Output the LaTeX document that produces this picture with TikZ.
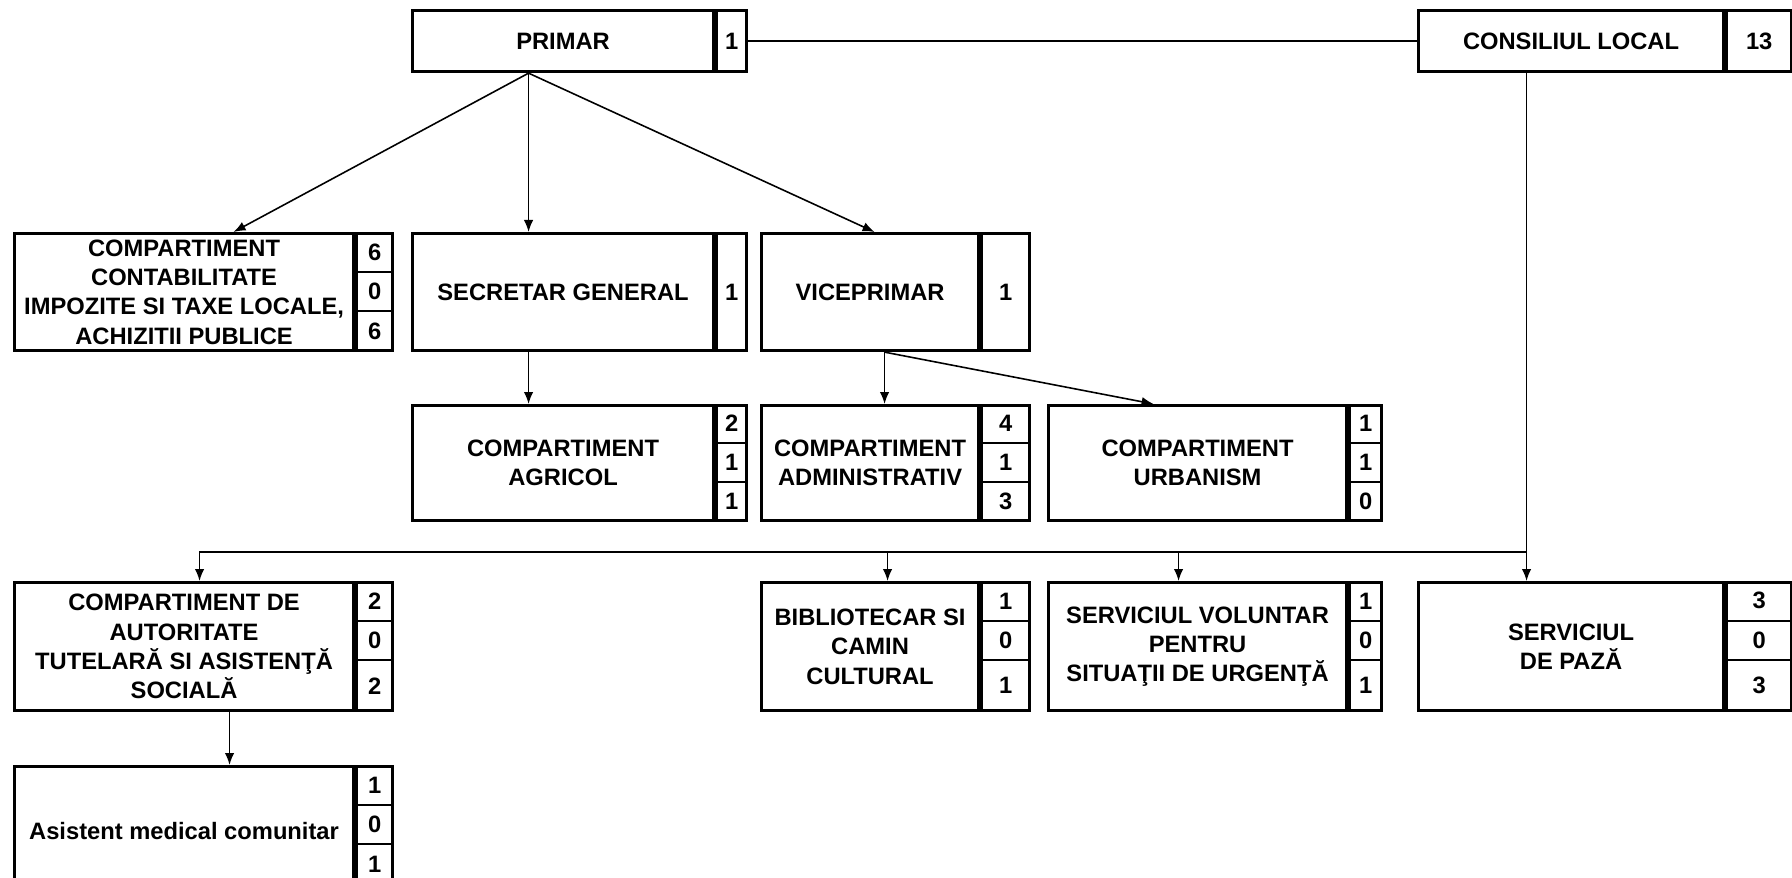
\documentclass[tikz,border=0pt]{standalone}
\usepackage{fontspec}
\setmainfont{Liberation Sans}
\usetikzlibrary{positioning,calc,arrows.meta}

\begin{document}
\begin{tikzpicture}[x=0.02cm,y=-0.02cm]
\tikzstyle{box}=[draw=black,line width=1.8pt,inner sep=0pt,anchor=north west,align=center,font=\bfseries\fontsize{13.5}{16.7}\selectfont]
\tikzstyle{num}=[box]
\tikzstyle{cell}=[inner sep=0pt,anchor=north,font=\bfseries\fontsize{13.5}{16.7}\selectfont]
\tikzstyle{sep}=[line width=1.1pt]
\tikzstyle{ln}=[draw=black,line width=0.9pt]
\tikzstyle{arr}=[ln,-{Latex[length=2.4mm,width=1.9mm]}]
% column widths (text part / number part)
\tikzstyle{wa}=[minimum width=6.78cm] \tikzstyle{na}=[minimum width=0.72cm]
\tikzstyle{wb}=[minimum width=6.02cm] \tikzstyle{nb}=[minimum width=0.6cm]
\tikzstyle{wc}=[minimum width=4.34cm] \tikzstyle{nc}=[minimum width=0.96cm]
\tikzstyle{wd}=[minimum width=5.96cm] \tikzstyle{nd}=[minimum width=0.64cm]
\tikzstyle{we}=[minimum width=6.1cm]  \tikzstyle{ne}=[minimum width=1.3cm]
% row heights
\tikzstyle{h0}=[minimum height=1.22cm]
\tikzstyle{h1}=[minimum height=2.34cm]
\tikzstyle{h2}=[minimum height=2.3cm]
\tikzstyle{h3}=[minimum height=2.56cm]
\tikzstyle{k1}=[minimum height=0.78cm]
\tikzstyle{k2}=[minimum height=0.767cm]
\tikzstyle{k3}=[minimum height=1.0cm]

\useasboundingbox (0,0) rectangle (1792,878);

% top row
\node [box,wb,h0] (primar) at (411,9) {PRIMAR};
\node [num,nb,h0] (primarN) at (primar.north east) {1};
\node [box,we,h0] (consiliu) at (1417,9) {CONSILIUL LOCAL};
\node [num,ne,h0] (consiliuN) at (consiliu.north east) {13};

% second row
\node [box,wa,h1] (contab) at (13,232) {COMPARTIMENT\\CONTABILITATE\\IMPOZITE SI TAXE LOCALE,\\ACHIZITII PUBLICE};
\node [num,na,h1] (contabN) at (contab.north east) {};
\node [cell,na,k1] (contab1) at (contabN.north) {6};
\node [cell,na,k1] (contab2) at (contab1.south) {0};
\node [cell,na,k1] (contab3) at (contab2.south) {6};
\node [box,wb,h1] (secretar) at (411,232) {SECRETAR GENERAL};
\node [num,nb,h1] (secretarN) at (secretar.north east) {1};
\node [box,wc,h1] (vice) at (760,232) {VICEPRIMAR};
\node [num,nc,h1] (viceN) at (vice.north east) {1};

% third row
\node [box,wb,h2] (agricol) at (411,404) {COMPARTIMENT\\AGRICOL};
\node [num,nb,h2] (agricolN) at (agricol.north east) {};
\node [cell,nb,k2] (agricol1) at (agricolN.north) {2};
\node [cell,nb,k2] (agricol2) at (agricol1.south) {1};
\node [cell,nb,k2] (agricol3) at (agricol2.south) {1};
\node [box,wc,h2] (admin) at (760,404) {COMPARTIMENT\\ADMINISTRATIV};
\node [num,nc,h2] (adminN) at (admin.north east) {};
\node [cell,nc,k2] (admin1) at (adminN.north) {4};
\node [cell,nc,k2] (admin2) at (admin1.south) {1};
\node [cell,nc,k2] (admin3) at (admin2.south) {3};
\node [box,wd,h2] (urban) at (1047,404) {COMPARTIMENT\\URBANISM};
\node [num,nd,h2] (urbanN) at (urban.north east) {};
\node [cell,nd,k2] (urban1) at (urbanN.north) {1};
\node [cell,nd,k2] (urban2) at (urban1.south) {1};
\node [cell,nd,k2] (urban3) at (urban2.south) {0};

% fourth row
\node [box,wa,h3] (autor) at (13,581) {COMPARTIMENT DE\\AUTORITATE\\TUTELARĂ SI ASISTENŢĂ\\SOCIALĂ};
\node [num,na,h3] (autorN) at (autor.north east) {};
\node [cell,na,k1] (autor1) at (autorN.north) {2};
\node [cell,na,k1] (autor2) at (autor1.south) {0};
\node [cell,na,k3] (autor3) at (autor2.south) {2};
\node [box,wc,h3] (bibl) at (760,581) {BIBLIOTECAR SI\\CAMIN\\CULTURAL};
\node [num,nc,h3] (biblN) at (bibl.north east) {};
\node [cell,nc,k1] (bibl1) at (biblN.north) {1};
\node [cell,nc,k1] (bibl2) at (bibl1.south) {0};
\node [cell,nc,k3] (bibl3) at (bibl2.south) {1};
\node [box,wd,h3] (voluntar) at (1047,581) {SERVICIUL VOLUNTAR\\PENTRU\\SITUAŢII DE URGENŢĂ};
\node [num,nd,h3] (voluntarN) at (voluntar.north east) {};
\node [cell,nd,k1] (voluntar1) at (voluntarN.north) {1};
\node [cell,nd,k1] (voluntar2) at (voluntar1.south) {0};
\node [cell,nd,k3] (voluntar3) at (voluntar2.south) {1};
\node [box,we,h3] (paza) at (1417,581) {SERVICIUL\\DE PAZĂ};
\node [num,ne,h3] (pazaN) at (paza.north east) {};
\node [cell,ne,k1] (paza1) at (pazaN.north) {3};
\node [cell,ne,k1] (paza2) at (paza1.south) {0};
\node [cell,ne,k3] (paza3) at (paza2.south) {3};

% last row (runs off the page)
\node [box,wa,h3] (asist) at (13,765) {Asistent medical comunitar};
\node [num,na,h3] (asistN) at (asist.north east) {};
\node [cell,na,k1] (asist1) at (asistN.north) {1};
\node [cell,na,k1] (asist2) at (asist1.south) {0};
\node [cell,na,k1] (asist3) at (asist2.south) {1};

% cell separators
\foreach \c in {contab,agricol,admin,urban,autor,bibl,voluntar,paza,asist} {
  \draw [sep] (\c1.south west) -- (\c1.south east);
  \draw [sep] (\c2.south west) -- (\c2.south east);
}

% connectors
\draw [ln] (primarN.east) -- (consiliu.west);
\draw [arr] ([xshift=-0.69cm]primar.south) -- ([xshift=0.99cm]contab.north);
\draw [arr] ([xshift=-0.69cm]primar.south) -- ([xshift=-0.69cm]secretar.north);
\draw [arr] ([xshift=-0.69cm]primar.south) -- ([xshift=0.09cm]vice.north);
\draw [arr] ([xshift=-0.69cm]secretar.south) -- ([xshift=-0.69cm]agricol.north);
\draw [arr] ([xshift=0.29cm]vice.south) -- ([xshift=0.29cm]admin.north);
\draw [arr] ([xshift=0.29cm]vice.south) -- ([xshift=-0.88cm]urban.north);
\coordinate (bus) at (0,552);
\draw [arr] ([xshift=-0.89cm]consiliu.south) -- ([xshift=-0.89cm]paza.north);
\draw [arr] ([xshift=-0.89cm]paza.north |- bus) -- ([xshift=0.31cm]autor.north |- bus) -- ([xshift=0.31cm]autor.north);
\draw [arr] ([xshift=0.35cm]bibl.north |- bus) -- ([xshift=0.35cm]bibl.north);
\draw [arr] ([xshift=-0.38cm]voluntar.north |- bus) -- ([xshift=-0.38cm]voluntar.north);
\draw [arr] ([xshift=0.91cm]autor.south) -- ([xshift=0.91cm]asist.north);
\end{tikzpicture}
\end{document}
